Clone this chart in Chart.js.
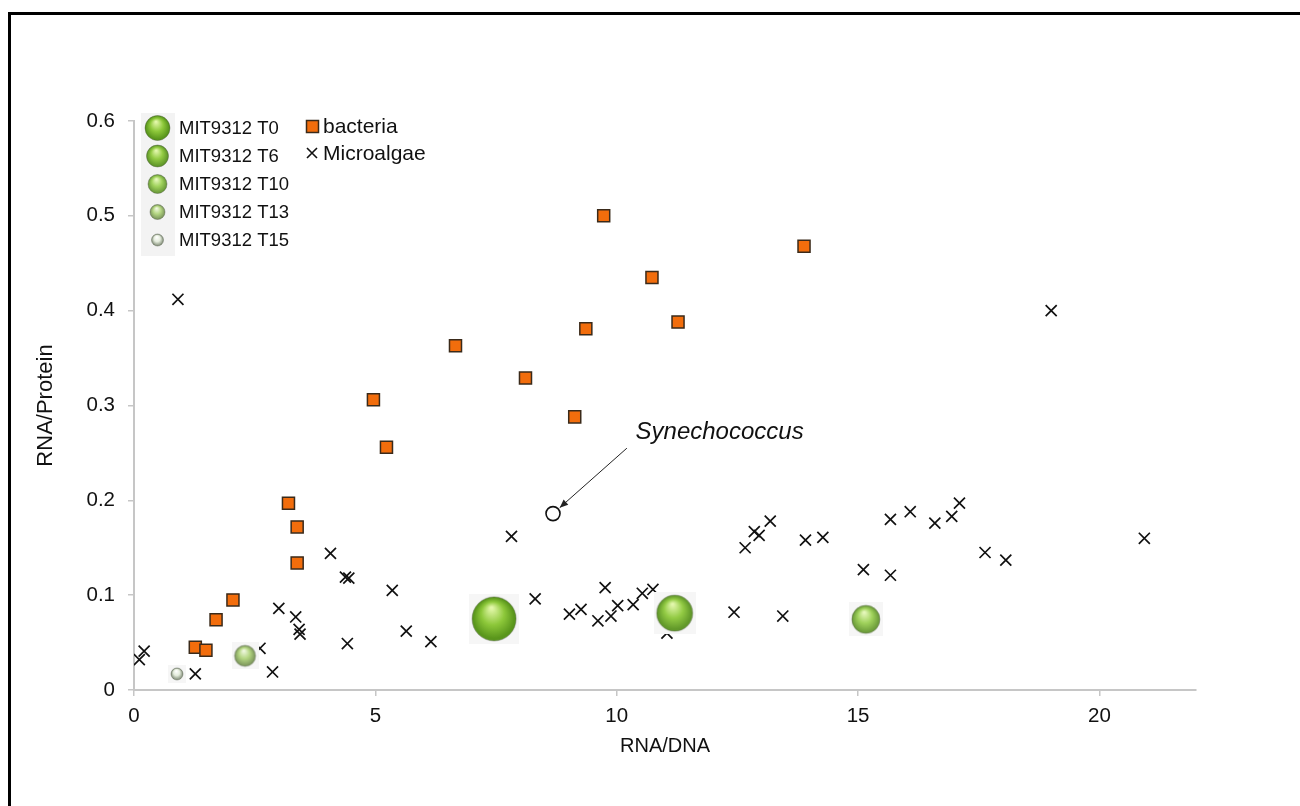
<!DOCTYPE html>
<html lang="en">
<head>
    <meta charset="UTF-8">
    <title>RNA/Protein vs RNA/DNA</title>
    <script src="https://cdn.jsdelivr.net/npm/chart.js@4.4.1/dist/chart.umd.min.js"></script>
    <style>
        html, body { margin: 0; padding: 0; background: #fff; }
        body { width: 1300px; height: 806px; position: relative; overflow: hidden; }
        .frame { position: absolute; left: 8px; top: 12px; right: -10px; bottom: -10px; border-left: 3px solid #000; border-top: 3px solid #000; }
        .chart-box { position: absolute; left: 0; top: 0; width: 1300px; height: 806px; }
    </style>
</head>
<body>
    <div class="frame"></div>
    <div class="chart-box"><canvas id="scatter"></canvas></div>
    <script>
        // bacteria (orange squares)
        const bacteriaX = [9.73, 13.88, 10.73, 11.27, 9.36, 6.66, 8.11, 4.96, 9.13, 5.23, 3.20, 3.38, 3.38, 2.05, 1.70, 1.27, 1.49];
        const bacteriaY = [0.500, 0.468, 0.435, 0.388, 0.381, 0.363, 0.329, 0.306, 0.288, 0.256, 0.197, 0.172, 0.134, 0.095, 0.074, 0.045, 0.042];

        // microalgae (crosses)
        const algaeX = [0.11, 0.21, 0.91, 1.27, 2.61, 2.87, 3.00, 3.35, 3.42, 3.44,
                        4.07, 4.38, 4.45, 4.42, 5.35, 5.64, 6.15, 7.82, 8.31, 9.02,
                        9.26, 9.61, 9.76, 9.88, 10.02, 10.34, 10.53, 10.75, 11.04, 12.43,
                        12.66, 12.85, 12.95, 13.18, 13.44, 13.91, 14.27, 15.11, 15.67, 15.67,
                        16.08, 16.59, 16.94, 17.10, 17.63, 18.06, 19.00, 20.93];
        const algaeY = [0.032, 0.041, 0.412, 0.017, 0.044, 0.019, 0.086, 0.077, 0.064, 0.059,
                        0.144, 0.119, 0.118, 0.049, 0.105, 0.062, 0.051, 0.162, 0.096, 0.080,
                        0.085, 0.073, 0.108, 0.078, 0.089, 0.090, 0.102, 0.106, 0.060, 0.082,
                        0.150, 0.167, 0.163, 0.178, 0.078, 0.158, 0.161, 0.127, 0.180, 0.121,
                        0.188, 0.176, 0.183, 0.197, 0.145, 0.137, 0.400, 0.160];

        // MIT9312 time points (spheres)
        const mitLabels = ['MIT9312 T0', 'MIT9312 T6', 'MIT9312 T10', 'MIT9312 T13', 'MIT9312 T15'];
        const mitX = [7.46, 11.20, 15.16, 2.30, 0.89];
        const mitY = [0.075, 0.081, 0.0745, 0.036, 0.017];

        // Synechococcus (open circle) + annotation
        const synX = [8.68];
        const synY = [0.186];
        const synLabel = 'Synechococcus';
        const synLabelPos = [10.39, 0.272];
        const synArrowFrom = [10.21, 0.255];

        const xTicks = [0, 5, 10, 15, 20];
        const FONT = "'Liberation Sans', Arial, Helvetica, sans-serif";

        // sphere look per time point
        const sphereRadius = [22, 18, 14, 10.5, 6];
        const legendRadius = [12.5, 11, 9.5, 7.5, 6];
        const sphereColors = [
            ['#e2f7a8', '#8dc83a', '#5a961c'],
            ['#e2f7ac', '#93cb44', '#62992a'],
            ['#e6f8bc', '#a0d25c', '#6f9f3c'],
            ['#f0f8e0', '#b4d682', '#829d60'],
            ['#ffffff', '#e4ecdc', '#8f9a86']
        ];

        function paintSphere(ctx, cx, cy, r, cols) {
            const g = ctx.createRadialGradient(cx - r * 0.12, cy - r * 0.5, r * 0.05, cx, cy, r);
            g.addColorStop(0, cols[0]);
            g.addColorStop(0.5, cols[1]);
            g.addColorStop(0.92, cols[2]);
            g.addColorStop(1, cols[2]);
            ctx.beginPath();
            ctx.arc(cx, cy, r, 0, Math.PI * 2);
            ctx.fillStyle = g;
            ctx.fill();
            ctx.lineWidth = 0.8;
            ctx.strokeStyle = 'rgba(70,80,60,0.5)';
            ctx.stroke();
        }

        function sphereImage(r, cols) {
            const pad = 3;
            const size = Math.ceil(2 * (r + pad));
            const c = document.createElement('canvas');
            c.width = size; c.height = size;
            const ctx = c.getContext('2d');
            ctx.fillStyle = '#f6f6f6';
            ctx.fillRect(0, 0, size, size);
            paintSphere(ctx, size / 2, size / 2, r, cols);
            return c;
        }

        const mitDatasets = mitLabels.map((name, i) => ({
            label: name,
            data: [{ x: mitX[i], y: mitY[i] }],
            pointStyle: sphereImage(sphereRadius[i], sphereColors[i]),
            pointRadius: sphereRadius[i]
        }));

        // legend + annotation drawn on top
        const overlay = {
            id: 'overlay',
            afterDatasetsDraw(chart) {
                const ctx = chart.ctx;
                const xs = chart.scales.x, ys = chart.scales.y;
                ctx.save();

                // annotation
                const fx = xs.getPixelForValue(synArrowFrom[0]), fy = ys.getPixelForValue(synArrowFrom[1]);
                const tx = xs.getPixelForValue(synX[0]), ty = ys.getPixelForValue(synY[0]);
                const ang = Math.atan2(ty - fy, tx - fx);
                const ex = tx - Math.cos(ang) * 9, ey = ty - Math.sin(ang) * 9;
                ctx.strokeStyle = '#222';
                ctx.lineWidth = 1;
                ctx.beginPath();
                ctx.moveTo(fx, fy);
                ctx.lineTo(ex, ey);
                ctx.stroke();
                ctx.fillStyle = '#222';
                ctx.beginPath();
                ctx.moveTo(ex, ey);
                ctx.lineTo(ex - Math.cos(ang - 0.4) * 9, ey - Math.sin(ang - 0.4) * 9);
                ctx.lineTo(ex - Math.cos(ang + 0.4) * 9, ey - Math.sin(ang + 0.4) * 9);
                ctx.closePath();
                ctx.fill();
                ctx.font = 'italic 24px ' + FONT;
                ctx.fillStyle = '#111';
                ctx.textAlign = 'left';
                ctx.textBaseline = 'middle';
                ctx.fillText(synLabel, xs.getPixelForValue(synLabelPos[0]), ys.getPixelForValue(synLabelPos[1]));

                // legend: MIT9312 spheres
                ctx.fillStyle = '#f3f3f3';
                ctx.fillRect(141, 113, 34, 143);
                const rowY = [128, 156, 184, 212, 240];
                mitLabels.forEach((name, i) => {
                    paintSphere(ctx, 157.5, rowY[i], legendRadius[i], sphereColors[i]);
                    ctx.font = '18.5px ' + FONT;
                    ctx.fillStyle = '#111';
                    ctx.fillText(name, 179, rowY[i] + 1);
                });

                // legend: bacteria / microalgae
                ctx.fillStyle = '#f26d0c';
                ctx.strokeStyle = '#3a2a1a';
                ctx.lineWidth = 1.5;
                ctx.fillRect(306.5, 120.5, 12, 12);
                ctx.strokeRect(306.5, 120.5, 12, 12);
                ctx.font = '21px ' + FONT;
                ctx.fillStyle = '#111';
                ctx.fillText('bacteria', 323, 127);
                ctx.strokeStyle = '#111';
                ctx.lineWidth = 1.6;
                ctx.beginPath();
                ctx.moveTo(307, 148); ctx.lineTo(317, 158);
                ctx.moveTo(317, 148); ctx.lineTo(307, 158);
                ctx.stroke();
                ctx.fillText('Microalgae', 323, 154);
                ctx.restore();
            }
        };

        const axisGrid = { drawOnChartArea: false, drawTicks: true, tickLength: 6, color: '#c6c6c6', lineWidth: 1.5 };
        const axisBorder = { color: '#c6c6c6', width: 2 };

        new Chart(document.getElementById('scatter').getContext('2d'), {
            type: 'scatter',
            data: {
                datasets: [
                    ...mitDatasets,
                    {
                        label: 'Synechococcus',
                        data: synX.map((x, i) => ({ x, y: synY[i] })),
                        pointStyle: 'circle', pointRadius: 7,
                        backgroundColor: '#fff', borderColor: '#111', borderWidth: 1.6
                    },
                    {
                        label: 'bacteria',
                        data: bacteriaX.map((x, i) => ({ x, y: bacteriaY[i] })),
                        pointStyle: 'rect', pointRadius: 8.5,
                        backgroundColor: '#f26d0c', borderColor: '#3a2a1a', borderWidth: 1.5
                    },
                    {
                        label: 'Microalgae',
                        data: algaeX.map((x, i) => ({ x, y: algaeY[i] })),
                        pointStyle: 'crossRot', pointRadius: 7.8,
                        borderColor: '#111', borderWidth: 1.7
                    }
                ]
            },
            options: {
                responsive: true,
                maintainAspectRatio: false,
                animation: false,
                events: [],
                layout: { padding: { left: 0, top: 121, right: 104, bottom: 36 } },
                plugins: { legend: { display: false }, tooltip: { enabled: false } },
                scales: {
                    x: {
                        type: 'linear', min: 0, max: 22,
                        afterBuildTicks: s => { s.ticks = xTicks.map(v => ({ value: v })); },
                        afterFit: s => { s.height = 80; },
                        grid: axisGrid, border: axisBorder,
                        ticks: { padding: 8, color: '#111', font: { family: FONT, size: 20.5 } },
                        title: { display: true, text: 'RNA/DNA', color: '#111', font: { family: FONT, size: 20 }, padding: { bottom: 12 } }
                    },
                    y: {
                        type: 'linear', min: 0, max: 0.6,
                        afterFit: s => { s.width = 134; },
                        grid: axisGrid, border: axisBorder,
                        ticks: { stepSize: 0.1, padding: 13, color: '#111', font: { family: FONT, size: 20.5 },
                                 callback: v => String(Number(v.toFixed(1))) },
                        title: { display: true, text: 'RNA/Protein', color: '#111', font: { family: FONT, size: 22 }, padding: { top: 33 } }
                    }
                }
            },
            plugins: [overlay]
        });
    </script>
</body>
</html>
